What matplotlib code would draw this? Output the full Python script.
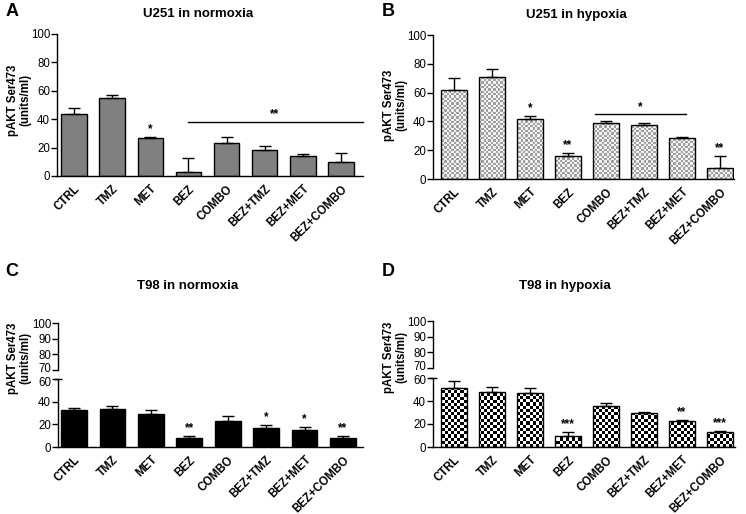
import matplotlib
matplotlib.use('Agg')
import matplotlib.pyplot as plt
import matplotlib.transforms as mtransforms
import numpy as np
from matplotlib.colors import ListedColormap

plt.rcParams['font.family'] = ['Liberation Sans', 'DejaVu Sans']

categories = ['CTRL', 'TMZ', 'MET', 'BEZ', 'COMBO', 'BEZ+TMZ', 'BEZ+MET', 'BEZ+COMBO']

a_vals = [43.4, 55.2, 27.0, 2.8, 23.1, 18.2, 14.2, 9.8]
a_err = [4.2, 2.1, 0.4, 9.8, 4.2, 2.8, 1.4, 6.7]
a_stars = ['', '', '*', '', '', '', '', '']

b_vals = [61.7, 70.7, 42.0, 16.0, 38.6, 37.4, 28.6, 7.4]
b_err = [8.5, 5.5, 1.9, 2.2, 2.0, 1.2, 0.7, 8.3]
b_stars = ['', '', '*', '**', '', '', '', '**']

c_vals = [32.7, 33.3, 29.2, 8.2, 22.8, 17.0, 14.9, 8.2]
c_err = [1.8, 3.0, 3.3, 1.4, 4.7, 2.0, 2.9, 1.4]
c_stars = ['', '', '', '**', '', '*', '*', '**']

d_vals = [51.0, 47.5, 47.0, 9.3, 35.4, 29.3, 22.3, 13.0]
d_err = [6.0, 5.0, 4.6, 3.7, 2.9, 1.4, 0.9, 0.6]
d_stars = ['', '', '', '***', '', '', '**', '***']

W, H = 746, 514
fig = plt.figure(figsize=(W / 100, H / 100), dpi=100)


def rect(x0, y0, x1, y1):
    return [x0 / W, 1 - y1 / H, (x1 - x0) / W, (y1 - y0) / H]


def px2x(px, c0, c7):
    sp = (c7 - c0) / 7.0
    return (px - c0) / sp


LW = 1.0
TICKFS = 8.3
XFS = 8.3
TITLEFS = 9.5
YLFS = 8.3
LETTERFS = 13


def style_axis(ax):
    for s in ['top', 'right']:
        ax.spines[s].set_visible(False)
    ax.spines['left'].set_linewidth(LW)
    ax.spines['bottom'].set_linewidth(LW)
    ax.tick_params(axis='y', direction='out', length=4, width=LW, labelsize=TICKFS, pad=1)
    ax.tick_params(axis='x', length=0, labelsize=XFS, pad=5)


def draw_bars(ax, vals, errs, width, face, checker=None, ylim=(0, 100)):
    x = np.arange(len(vals))
    if checker is None:
        bars = ax.bar(x, vals, width=width, color=face, edgecolor='black', linewidth=LW, zorder=2)
    else:
        bars = ax.bar(x, vals, width=width, color='none', edgecolor='black', linewidth=LW, zorder=3)
        cell, c1, c2 = checker
        pos = ax.get_position()
        nx = int(pos.width * W / cell)
        ny = int(pos.height * H / cell)
        arr = (np.add.outer(np.arange(ny), np.arange(nx)) % 2)
        cmap = ListedColormap([c1, c2])
        xl = ax.get_xlim()
        for b in bars:
            im = ax.imshow(arr, extent=(xl[0], xl[1], ylim[0], ylim[1]), aspect='auto',
                           interpolation='nearest', cmap=cmap, zorder=2, origin='lower')
            im.set_clip_path(b)
    ax.errorbar(x, vals, yerr=[np.zeros(len(errs)), errs], fmt='none', ecolor='black',
                elinewidth=LW, capsize=4.5, capthick=LW, zorder=4)
    return x


def add_stars(ax, x, vals, errs, stars, fs=8.5):
    for xi, v, e, s in zip(x, vals, errs, stars):
        if s:
            ax.annotate(s, (xi, v + e), xytext=(0, 1.5), textcoords='offset points',
                        ha='center', va='bottom', fontsize=fs, fontweight='bold', zorder=5)


def set_xlabels(ax):
    ax.set_xticks(np.arange(len(categories)))
    ax.set_xticklabels(categories, rotation=45, ha='right', va='top', rotation_mode='anchor',
                       fontweight='bold', fontsize=XFS)


def ylabel(x, y):
    fig.text(x / W, 1 - y / H, 'pAKT Ser473\n(units/ml)', rotation=90, ha='center', va='center',
             fontsize=YLFS, fontweight='bold', linespacing=1.1)


def shift_label(lbl, dy_px):
    off = mtransforms.ScaledTranslation(0, dy_px / 100.0, fig.dpi_scale_trans)
    lbl.set_transform(lbl.get_transform() + off)


# ---------------- Panel A ----------------
axA = fig.add_axes(rect(57, 34, 363, 176))
c0, c7 = 74, 341
axA.set_xlim(px2x(57, c0, c7), px2x(363, c0, c7))
axA.set_ylim(0, 100)
style_axis(axA)
xa = draw_bars(axA, a_vals, a_err, 0.67, '#808080')
add_stars(axA, xa, a_vals, a_err, a_stars)
axA.set_yticks([0, 20, 40, 60, 80, 100])
set_xlabels(axA)
axA.plot([3, axA.get_xlim()[1]], [37.8, 37.8], color='black', lw=LW, clip_on=False, zorder=5)
axA.text((3 + 7.5) / 2, 39.0, '**', ha='center', va='bottom', fontsize=8.5, fontweight='bold')
ylabel(19, 100)
fig.text(198 / W, 1 - 14 / H, 'U251 in normoxia', ha='center', va='center', fontsize=TITLEFS, fontweight='bold')
fig.text(12 / W, 1 - 12 / H, 'A', ha='center', va='center', fontsize=LETTERFS, fontweight='bold')

# ---------------- Panel B ----------------
axB = fig.add_axes(rect(433, 35, 734, 179))
c0, c7 = 454, 720
axB.set_xlim(px2x(433, c0, c7), px2x(734, c0, c7))
axB.set_ylim(0, 100)
style_axis(axB)
xb = draw_bars(axB, b_vals, b_err, 0.66, None, checker=(2.3, '#a0a0a0', '#f4f4f4'))
add_stars(axB, xb, b_vals, b_err, b_stars)
axB.set_yticks([0, 20, 40, 60, 80, 100])
set_xlabels(axB)
axB.plot([3.7, 6.1], [45.0, 45.0], color='black', lw=LW, zorder=5)
axB.text(4.9, 46.0, '*', ha='center', va='bottom', fontsize=8.5, fontweight='bold')
ylabel(395, 105)
fig.text(576 / W, 1 - 15 / H, 'U251 in hypoxia', ha='center', va='center', fontsize=TITLEFS, fontweight='bold')
fig.text(388 / W, 1 - 12 / H, 'B', ha='center', va='center', fontsize=LETTERFS, fontweight='bold')


# ---------------- broken-axis panels ----------------
def broken_panel(x0, x1, y100, y70, y60, y0, c0, c7, vals, errs, stars, width, face, checker):
    up = fig.add_axes(rect(x0, y100, x1, y70))
    lo = fig.add_axes(rect(x0, y60, x1, y0))
    xl = (px2x(x0, c0, c7), px2x(x1, c0, c7))
    for ax in (up, lo):
        ax.set_xlim(*xl)
        style_axis(ax)
    up.set_ylim(70, 100)
    up.set_yticks([70, 80, 90, 100])
    up.spines['bottom'].set_visible(False)
    up.set_xticks([])
    lo.set_ylim(0, 60)
    lo.set_yticks([0, 20, 40, 60])
    # keep the 70 and 60 labels from colliding
    shift_label(up.get_yticklabels()[0], 2.0)
    shift_label(lo.get_yticklabels()[-1], -2.0)
    x = draw_bars(lo, vals, errs, width, face, checker=checker, ylim=(0, 60))
    add_stars(lo, x, vals, errs, stars)
    set_xlabels(lo)
    lo.plot([0], [1], marker='_', markersize=6, mew=LW, color='black', transform=lo.transAxes,
            clip_on=False, zorder=6)
    return up, lo


upC, loC = broken_panel(58, 363, 323, 370, 379, 447, 74, 343, c_vals, c_err, c_stars, 0.67, 'black', None)
ylabel(19, 358)
fig.text(188 / W, 1 - 286 / H, 'T98 in normoxia', ha='center', va='center', fontsize=TITLEFS, fontweight='bold')
fig.text(12 / W, 1 - 272 / H, 'C', ha='center', va='center', fontsize=LETTERFS, fontweight='bold')

upD, loD = broken_panel(433, 735, 321, 368, 378, 447, 454, 720, d_vals, d_err, d_stars, 0.66, None,
                        (3.0, 'black', 'white'))
ylabel(395, 357)
fig.text(565 / W, 1 - 286 / H, 'T98 in hypoxia', ha='center', va='center', fontsize=TITLEFS, fontweight='bold')
fig.text(388 / W, 1 - 272 / H, 'D', ha='center', va='center', fontsize=LETTERFS, fontweight='bold')

fig.savefig('out.png', dpi=100)
